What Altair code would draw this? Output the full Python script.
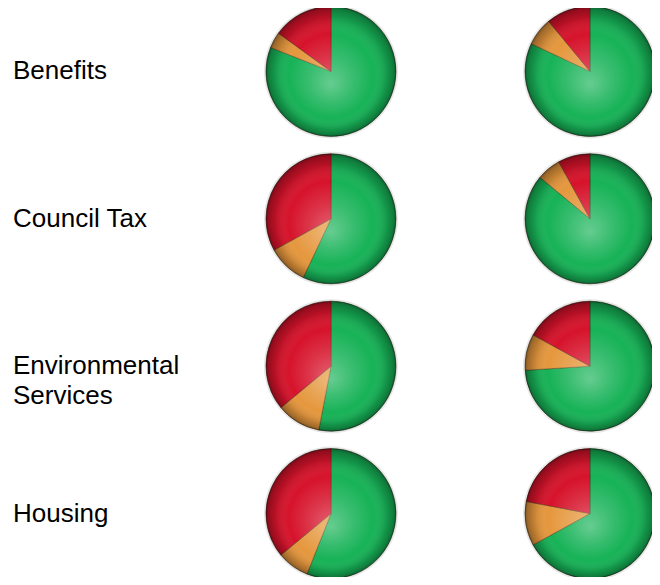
import altair as alt
import pandas as pd
import math

# ---- data ----
services = ["Benefits", "Council Tax", "Environmental Services", "Housing"]
labels = ["Benefits", "Council Tax", "Environmental\nServices", "Housing"]
periods = ["Period 1", "Period 2"]
statuses = ["Good", "Fair", "Poor"]

# percentages per service: [green, orange, red]
period1 = [[81, 4, 15], [57, 10, 33], [53, 11, 36], [56, 8, 36]]
period2 = [[82, 7, 11], [86, 6, 8], [74, 9, 17], [67, 11, 22]]

status_colors = ["#17b257", "#e5973d", "#d6132b"]

rows = []
for si, s in enumerate(services):
    for p, vals in zip(periods, [period1[si], period2[si]]):
        for oi, (st, v) in enumerate(zip(statuses, vals)):
            rows.append({"service": s, "period": p, "status": st, "order": oi, "value": v})
df = pd.DataFrame(rows)

pies = pd.DataFrame([{"service": s, "period": p} for s in services for p in periods])
lab = pd.DataFrame({"service": services, "label": labels})

W, H = 644, 569
xscale = alt.Scale(type="point", domain=periods, padding=0.743, align=0.839)
yscale = alt.Scale(type="point", domain=services, padding=0.43, align=0.5)
X = alt.X("period:N", scale=xscale, axis=None)
Y = alt.Y("service:N", scale=yscale, axis=None)

R = 65

shadow = alt.Chart(pies).mark_arc(
    outerRadius=R + 2, theta=0, theta2=2 * math.pi, fill="#bbbbbb", fillOpacity=0.35
).encode(x=X, y=Y)

slices = alt.Chart(df).transform_window(
    end="sum(value)", groupby=["service", "period"], sort=[alt.SortField("order")], frame=[None, 0]
).transform_calculate(start="datum.end - datum.value").mark_arc(
    outerRadius=R, stroke="#3a2a10", strokeOpacity=0.5, strokeWidth=0.8
).encode(
    x=X,
    y=Y,
    theta=alt.Theta("start:Q", scale=alt.Scale(domain=[0, 100], range=[0, 2 * math.pi])),
    theta2="end:Q",
    color=alt.Color("status:N", scale=alt.Scale(domain=statuses, range=status_colors), legend=None),
)

shade = alt.Chart(pies).mark_arc(
    outerRadius=R,
    theta=0,
    theta2=2 * math.pi,
    fill={
        "gradient": "radial",
        "x1": 0.5, "y1": 0.6, "r1": 0,
        "x2": 0.5, "y2": 0.5, "r2": 0.5,
        "stops": [
            {"offset": 0, "color": "rgba(255,255,255,0.34)"},
            {"offset": 0.35, "color": "rgba(255,255,255,0.14)"},
            {"offset": 0.65, "color": "rgba(255,255,255,0.0)"},
            {"offset": 0.86, "color": "rgba(0,0,0,0.14)"},
            {"offset": 0.96, "color": "rgba(0,0,0,0.3)"},
            {"offset": 1, "color": "rgba(0,0,0,0.45)"},
        ],
    },
    stroke="rgba(0,0,0,0.3)",
    strokeWidth=0.8,
).encode(x=X, y=Y)

text = alt.Chart(lab).mark_text(
    align="left", baseline="middle", fontSize=26, font="Liberation Sans",
    lineBreak="\n", lineHeight=30, color="#000000"
).encode(x=alt.value(5), y=Y, text="label:N")

chart = alt.layer(shadow, slices, shade, text).properties(
    width=W, height=H, autosize=alt.AutoSizeParams(type="none"), padding=0
).configure_view(stroke=None)

chart.save("out.html", embed_options={"renderer": "svg", "actions": False})
